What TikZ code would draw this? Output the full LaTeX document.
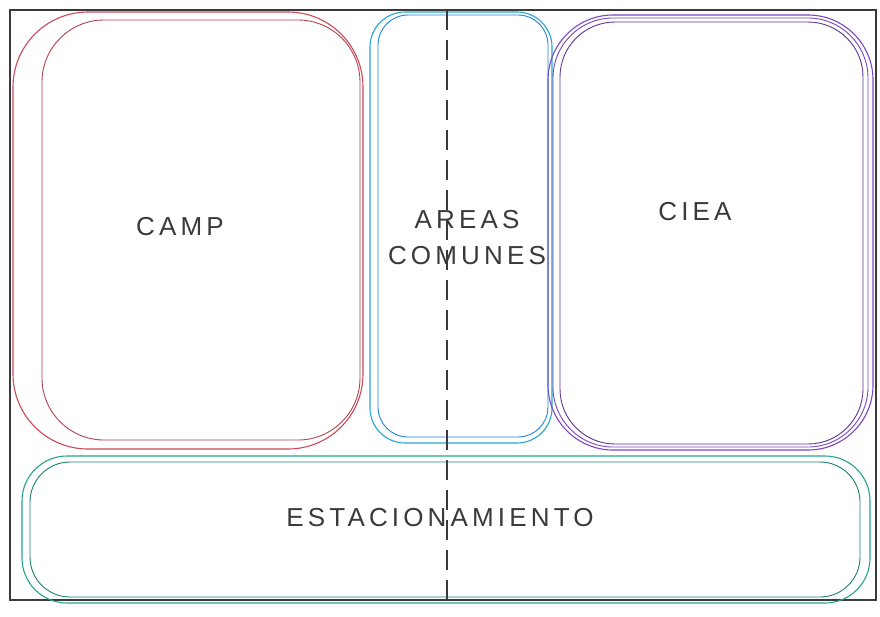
\documentclass[tikz,border=0pt]{standalone}
\usepackage{fontspec}
\newfontfamily\hand[LetterSpace=16]{Liberation Sans}
\definecolor{campc}{HTML}{C94A58}
\definecolor{areac}{HTML}{27A6D2}
\definecolor{cieac}{HTML}{7A48C4}
\definecolor{estc}{HTML}{24A58C}
\definecolor{ink}{HTML}{3A3A3A}
\begin{document}
\begin{tikzpicture}[x=1pt,y=-1pt,
  zone/.style={line width=1.1pt},
  zone2/.style={line width=0.9pt},
  lbl/.style={font=\hand\fontsize{26}{36}\selectfont, text=ink, align=center},
  axisline/.style={draw=ink, line width=1.1pt, dash pattern=on 20pt off 10pt}]
\useasboundingbox (0,0) rectangle (880,616);
\fill[white] (0,0) rectangle (880,616);
% frame
\node[draw=ink, line width=1.5pt, minimum width=866pt, minimum height=590pt, inner sep=0pt] (frame) at (443,305) {};
% zones (primary strokes)
\node[draw=campc, zone, rounded corners=75pt, minimum width=350pt, minimum height=437pt, inner sep=0pt] (camp) at (188,230.5) {};
\node[draw=areac, zone, rounded corners=35pt, minimum width=182pt, minimum height=431pt, inner sep=0pt] (areas) at (461,227.5) {};
\node[draw=cieac, zone, rounded corners=65pt, minimum width=325pt, minimum height=435pt, inner sep=0pt] (ciea) at (710.5,232.5) {};
\node[draw=estc, zone, rounded corners=45pt, minimum width=848pt, minimum height=147pt, inner sep=0pt] (est) at (446,529.5) {};
% secondary strokes
\draw[campc!90!black, zone2, rounded corners=62pt] (42,20) rectangle (360,440);
\draw[areac!80!blue, zone2, rounded corners=30pt] (378,15) rectangle (548,437);
\draw[cieac!75!black, zone2, rounded corners=55pt] (560,22) rectangle (863,444);
\draw[cieac, zone2, rounded corners=60pt] (553,18) rectangle (868,447);
\draw[estc!80!black, zone2, rounded corners=40pt] (30,462) rectangle (860,597);
% axis
\coordinate (dtop) at (447,10);
\coordinate (dbot) at (447,600);
\draw[axisline] (dtop) -- (dbot);
% labels
\node[lbl] (lcamp) at (180,227) {CAMP};
\node[lbl] (lareas) at (467,238) {AREAS\\COMUNES};
\node[lbl] (lciea) at (695,212) {CIEA};
\node[lbl] (lest) at (440,518) {ESTACIONAMIENTO};
\end{tikzpicture}
\end{document}
